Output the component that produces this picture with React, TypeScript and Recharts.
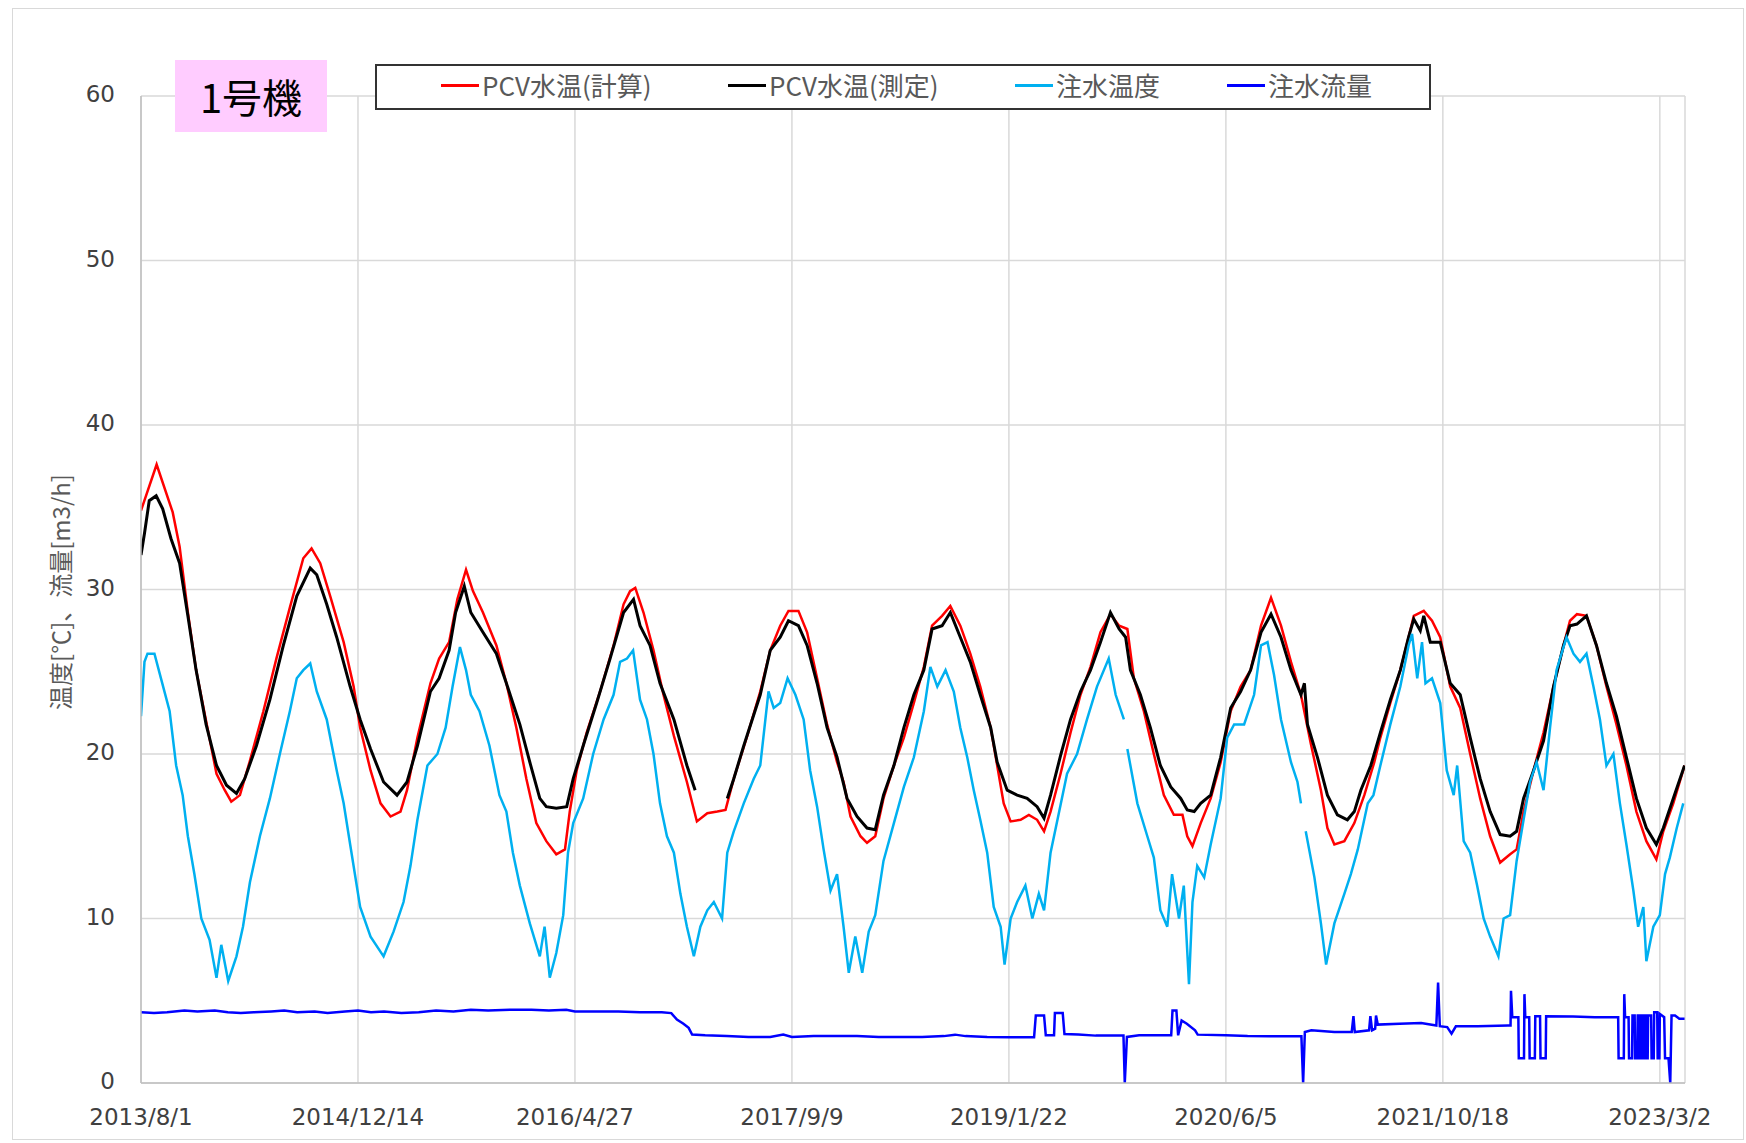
import { LineChart, Line, XAxis, YAxis, CartesianGrid, Legend } from "recharts";

// days counted from 2013/8/1
const xTicks = [0, 500, 1000, 1500, 2000, 2500, 3000, 3500];
const xTickLabels = [
  "2013/8/1",
  "2014/12/14",
  "2016/4/27",
  "2017/9/9",
  "2019/1/22",
  "2020/6/5",
  "2021/10/18",
  "2023/3/2",
];
const yTicks = [0, 10, 20, 30, 40, 50, 60];

// PCV水温(計算)
const pcvCalc: [number, number | null][] = [
  [0, 34.8], [36, 37.6], [73, 34.7], [89, 32.6], [108, 28.6], [127, 25.1], [150, 22.0],
  [174, 18.8], [193, 17.8], [208, 17.1], [228, 17.5], [250, 19.5], [282, 22.6], [312, 25.8],
  [343, 28.9], [374, 31.9], [393, 32.5], [413, 31.6], [436, 29.6], [467, 26.8], [490, 24.1],
  [505, 21.6], [529, 19.0], [552, 17.0], [575, 16.2], [598, 16.5], [613, 17.8], [637, 21.0],
  [667, 24.3], [687, 25.8], [710, 26.8], [729, 29.4], [749, 31.2], [765, 29.9], [788, 28.6],
  [819, 26.6], [842, 24.3], [865, 21.6], [888, 18.5], [911, 15.8], [934, 14.7], [957, 13.9],
  [977, 14.2], [988, 16.5], [1004, 19.0], [1027, 21.3], [1058, 23.8], [1089, 26.6], [1112, 29.1],
  [1127, 29.9], [1139, 30.1], [1158, 28.6], [1181, 26.3], [1204, 23.6], [1228, 21.1], [1258, 18.3],
  [1281, 15.9], [1305, 16.4], [1328, 16.5], [1347, 16.6], [1366, 18.5], [1397, 21.1], [1427, 23.8],
  [1450, 26.3], [1473, 27.8], [1492, 28.7], [1515, 28.7], [1535, 27.4], [1558, 24.6], [1581, 21.8],
  [1604, 19.5], [1619, 18.3], [1635, 16.2], [1658, 15.0], [1673, 14.6], [1692, 15.0], [1711, 17.3],
  [1735, 19.3], [1758, 21.0], [1781, 23.1], [1804, 25.3], [1823, 27.8], [1846, 28.4], [1865, 29.0],
  [1888, 27.8], [1911, 26.1], [1934, 24.1], [1958, 21.6], [1973, 19.3], [1988, 17.0], [2004, 15.9],
  [2027, 16.0], [2046, 16.3], [2065, 16.0], [2081, 15.3], [2096, 16.5], [2119, 18.8], [2142, 21.3],
  [2165, 23.6], [2188, 25.3], [2211, 27.4], [2234, 28.5], [2254, 27.8], [2273, 27.6], [2288, 24.6],
  [2311, 22.6], [2334, 20.0], [2357, 17.5], [2380, 16.3], [2400, 16.3], [2411, 15.0], [2423, 14.4],
  [2442, 15.8], [2465, 17.3], [2488, 19.5], [2511, 22.6], [2534, 24.1], [2557, 25.1], [2581, 27.8],
  [2604, 29.5], [2627, 27.8], [2650, 25.6], [2673, 23.6], [2696, 20.6], [2719, 17.8], [2734, 15.5],
  [2750, 14.5], [2773, 14.7], [2796, 15.8], [2819, 17.5], [2842, 19.5], [2856, 21.0], [2879, 23.1],
  [2902, 25.1], [2921, 27.1], [2933, 28.4], [2956, 28.7], [2975, 28.1], [2994, 27.1], [3017, 24.1],
  [3040, 22.8], [3063, 20.0], [3086, 17.3], [3109, 15.0], [3132, 13.4], [3155, 13.9], [3170, 14.2],
  [3186, 16.5], [3209, 19.0], [3232, 21.3], [3255, 24.1], [3278, 26.6], [3293, 28.1], [3309, 28.5],
  [3331, 28.4], [3354, 26.6], [3377, 24.1], [3400, 21.8], [3423, 19.3], [3446, 16.5], [3469, 14.7],
  [3492, 13.6], [3508, 15.3], [3531, 17.0], [3557, 19.3],
];

// PCV水温(測定)
const pcvMeas: [number, number | null][] = [
  [0, 32.1], [8, 33.4], [19, 35.4], [35, 35.7], [50, 34.9], [69, 33.1], [89, 31.6], [108, 28.4],
  [127, 25.1], [150, 21.8], [174, 19.3], [197, 18.1], [220, 17.6], [239, 18.5], [266, 20.5],
  [297, 23.3], [328, 26.6], [359, 29.6], [390, 31.3], [405, 30.9], [428, 29.1], [451, 27.1],
  [482, 24.1], [505, 22.1], [529, 20.3], [559, 18.3], [590, 17.5], [613, 18.3], [637, 20.5],
  [667, 23.8], [687, 24.6], [710, 26.3], [725, 28.6], [745, 30.2], [760, 28.6], [788, 27.4],
  [819, 26.1], [842, 24.3], [873, 21.8], [896, 19.5], [919, 17.3], [934, 16.8], [957, 16.7],
  [981, 16.8], [996, 18.5], [1019, 20.5], [1050, 23.1], [1081, 25.8], [1112, 28.6], [1135, 29.4],
  [1150, 27.8], [1173, 26.6], [1196, 24.3], [1228, 22.1], [1258, 19.3], [1277, 17.8], [1300, null],
  [1351, 17.3], [1366, 18.5], [1389, 20.5], [1427, 23.6], [1450, 26.3], [1473, 27.1], [1492, 28.1],
  [1515, 27.8], [1535, 26.6], [1558, 24.3], [1581, 21.6], [1604, 19.8], [1627, 17.3], [1650, 16.2],
  [1673, 15.5], [1692, 15.4], [1711, 17.5], [1735, 19.3], [1758, 21.6], [1781, 23.6], [1804, 25.1],
  [1823, 27.6], [1846, 27.8], [1865, 28.6], [1888, 27.1], [1911, 25.6], [1934, 23.6], [1958, 21.6],
  [1973, 19.5], [1996, 17.8], [2019, 17.5], [2042, 17.3], [2065, 16.8], [2081, 16.1], [2096, 17.5],
  [2119, 19.9], [2142, 22.1], [2165, 23.8], [2188, 25.1], [2211, 26.8], [2234, 28.6], [2254, 27.6],
  [2269, 27.1], [2280, 25.1], [2303, 23.6], [2326, 21.6], [2349, 19.3], [2373, 18.0], [2396, 17.3],
  [2411, 16.6], [2427, 16.5], [2442, 17.0], [2465, 17.5], [2488, 19.8], [2511, 22.8], [2534, 23.8],
  [2557, 25.1], [2581, 27.4], [2604, 28.5], [2627, 27.1], [2650, 25.1], [2673, 23.6], [2681, 24.3],
  [2688, 21.8], [2711, 19.8], [2734, 17.5], [2757, 16.3], [2780, 16.0], [2796, 16.5], [2811, 17.8],
  [2834, 19.3], [2856, 21.3], [2879, 23.3], [2902, 25.1], [2921, 27.1], [2933, 28.2], [2948, 27.5],
  [2956, 28.4], [2971, 26.8], [2994, 26.8], [3017, 24.3], [3040, 23.6], [3063, 21.0], [3086, 18.5],
  [3109, 16.5], [3132, 15.1], [3155, 15.0], [3170, 15.3], [3186, 17.3], [3209, 19.0], [3232, 20.8],
  [3255, 24.1], [3278, 26.6], [3293, 27.8], [3309, 27.9], [3331, 28.4], [3354, 26.6], [3377, 24.3],
  [3400, 22.3], [3423, 19.8], [3446, 17.3], [3469, 15.5], [3492, 14.5], [3508, 15.5], [3531, 17.3],
  [3557, 19.3],
];

// 注水温度
const injTemp: [number, number | null][] = [
  [0, 22.3], [8, 25.6], [15, 26.1], [31, 26.1], [46, 24.6], [66, 22.6], [81, 19.3], [96, 17.5],
  [108, 15.0], [123, 12.7], [139, 10.0], [158, 8.7], [174, 6.4], [185, 8.4], [201, 6.2], [220, 7.7],
  [235, 9.5], [251, 12.2], [274, 15.0], [297, 17.3], [320, 20.0], [343, 22.6], [359, 24.6],
  [374, 25.1], [390, 25.5], [405, 23.8], [428, 22.1], [451, 19.0], [467, 17.0], [482, 14.5],
  [505, 10.7], [529, 8.9], [559, 7.7], [582, 9.2], [605, 11.0], [621, 13.2], [637, 16.0], [660, 19.3],
  [683, 20.0], [702, 21.6], [718, 24.1], [735, 26.5], [749, 25.1], [760, 23.6], [780, 22.6],
  [803, 20.5], [826, 17.5], [842, 16.5], [857, 14.0], [873, 12.0], [896, 9.7], [919, 7.7], [930, 9.5],
  [942, 6.4], [957, 7.9], [973, 10.2], [984, 14.0], [996, 15.8], [1019, 17.3], [1042, 20.0],
  [1066, 22.1], [1089, 23.6], [1104, 25.6], [1120, 25.8], [1134, 26.3], [1150, 23.3], [1166, 22.1],
  [1181, 20.0], [1196, 17.0], [1212, 15.0], [1228, 14.0], [1243, 11.5], [1258, 9.5], [1274, 7.7],
  [1289, 9.5], [1305, 10.5], [1320, 11.0], [1339, 10.0], [1351, 14.0], [1366, 15.3], [1389, 17.0],
  [1412, 18.5], [1427, 19.3], [1446, 23.8], [1458, 22.8], [1473, 23.1], [1490, 24.6], [1508, 23.6],
  [1527, 22.1], [1542, 19.0], [1558, 16.8], [1573, 14.2], [1589, 11.7], [1604, 12.7], [1619, 9.5],
  [1631, 6.7], [1646, 8.9], [1662, 6.7], [1677, 9.2], [1692, 10.2], [1711, 13.5], [1735, 15.8],
  [1758, 18.0], [1781, 19.8], [1804, 22.6], [1819, 25.3], [1835, 24.1], [1854, 25.1], [1873, 23.8],
  [1888, 21.6], [1904, 19.8], [1919, 17.8], [1934, 16.0], [1950, 14.0], [1965, 10.7], [1981, 9.5],
  [1990, 7.2], [2004, 10.0], [2019, 11.0], [2038, 12.0], [2054, 10.0], [2069, 11.5], [2081, 10.5],
  [2096, 14.0], [2119, 16.9], [2134, 18.8], [2157, 20.0], [2180, 22.1], [2203, 24.1], [2230, 25.8],
  [2246, 23.6], [2265, 22.1], [2269, null], [2273, 20.3], [2296, 17.0], [2319, 15.0], [2334, 13.7],
  [2349, 10.5], [2365, 9.5], [2376, 12.7], [2392, 10.0], [2403, 12.0], [2415, 6.0], [2423, 11.0],
  [2434, 13.2], [2450, 12.5], [2465, 14.5], [2488, 17.3], [2503, 21.0], [2519, 21.8], [2542, 21.8],
  [2565, 23.6], [2581, 26.6], [2596, 26.8], [2611, 24.8], [2627, 22.1], [2650, 19.5], [2665, 18.3],
  [2673, 17.0], [2678, null], [2684, 15.3], [2704, 12.5], [2719, 9.7], [2731, 7.2], [2750, 9.7],
  [2773, 11.5], [2788, 12.7], [2804, 14.2], [2827, 17.0], [2840, 17.5], [2856, 19.3], [2879, 21.8],
  [2902, 24.1], [2921, 26.6], [2929, 27.3], [2941, 24.6], [2952, 26.8], [2960, 24.3], [2975, 24.6],
  [2994, 23.1], [3009, 19.0], [3025, 17.5], [3033, 19.3], [3048, 14.7], [3063, 14.0], [3079, 12.0],
  [3094, 10.0], [3109, 8.9], [3128, 7.7], [3140, 10.0], [3155, 10.2], [3170, 13.5], [3186, 16.0],
  [3201, 18.3], [3216, 19.5], [3232, 17.8], [3247, 21.6], [3262, 25.1], [3285, 27.1], [3301, 26.1],
  [3316, 25.6], [3331, 26.1], [3347, 24.1], [3362, 22.1], [3377, 19.3], [3393, 20.0], [3408, 17.0],
  [3423, 14.5], [3439, 11.7], [3450, 9.5], [3462, 10.7], [3469, 7.4], [3485, 9.5], [3500, 10.2],
  [3512, 12.7], [3523, 13.7], [3539, 15.5], [3554, 17.0],
];

// 注水流量
const injFlow: [number, number | null][] = [
  [0, 4.3], [30, 4.25], [60, 4.3], [100, 4.4], [130, 4.35], [170, 4.4], [200, 4.3], [230, 4.25],
  [260, 4.3], [300, 4.35], [330, 4.4], [360, 4.3], [400, 4.35], [430, 4.25], [470, 4.35], [500, 4.4],
  [530, 4.3], [560, 4.35], [600, 4.25], [640, 4.3], [680, 4.4], [720, 4.35], [760, 4.45], [800, 4.4],
  [850, 4.45], [900, 4.45], [940, 4.4], [980, 4.45], [1000, 4.35], [1050, 4.35], [1100, 4.35],
  [1150, 4.3], [1200, 4.3], [1222, 4.25], [1235, 3.85], [1250, 3.6], [1262, 3.35], [1270, 2.95],
  [1300, 2.9], [1350, 2.85], [1400, 2.8], [1450, 2.8], [1480, 2.95], [1500, 2.8], [1550, 2.85],
  [1600, 2.85], [1650, 2.85], [1700, 2.8], [1750, 2.8], [1800, 2.8], [1850, 2.85], [1876, 2.94],
  [1900, 2.85], [1950, 2.8], [2000, 2.78], [2058, 2.78], [2062, 4.1], [2081, 4.1], [2085, 2.9],
  [2104, 2.9], [2106, 4.26], [2124, 4.26], [2128, 2.98], [2160, 2.95], [2200, 2.88], [2264, 2.88],
  [2267, 0], [2272, 2.8], [2300, 2.9], [2350, 2.9], [2374, 2.9], [2377, 4.4], [2386, 4.4], [2390, 2.9],
  [2398, 3.8], [2410, 3.6], [2429, 3.2], [2435, 2.94], [2500, 2.9], [2550, 2.85], [2600, 2.84],
  [2674, 2.84], [2678, 0], [2682, 3.1], [2697, 3.2], [2750, 3.1], [2790, 3.1], [2794, 4.06],
  [2797, 3.1], [2830, 3.2], [2833, 4.06], [2837, 3.2], [2844, 3.3], [2846, 4.1], [2850, 3.55],
  [2900, 3.6], [2950, 3.65], [2985, 3.5], [2989, 6.1], [2993, 3.45], [3010, 3.4], [3020, 3.0],
  [3030, 3.45], [3080, 3.45], [3150, 3.5], [3156, 3.5], [3157, 5.6], [3160, 4.0], [3174, 4.0],
  [3175, 1.5], [3187, 1.5], [3188, 5.4], [3190, 4.0], [3199, 4.0], [3200, 1.5], [3212, 1.5],
  [3213, 4.06], [3224, 4.06], [3225, 1.5], [3237, 1.5], [3238, 4.06], [3300, 4.05], [3350, 4.0],
  [3404, 4.0], [3405, 1.5], [3417, 1.5], [3418, 5.4], [3420, 4.0], [3428, 4.0], [3429, 1.5],
  [3436, 1.5], [3437, 4.1], [3442, 4.1], [3443, 1.5], [3448, 1.5], [3449, 4.1], [3452, 4.1],
  [3453, 1.5], [3456, 1.5], [3457, 4.1], [3460, 4.1], [3461, 1.5], [3464, 1.5], [3465, 4.1],
  [3468, 4.1], [3469, 1.5], [3472, 1.5], [3473, 4.1], [3480, 4.1], [3481, 1.5], [3486, 1.5],
  [3487, 4.3], [3494, 4.3], [3495, 1.5], [3499, 1.5], [3500, 4.2], [3510, 4.0], [3512, 1.5],
  [3520, 1.5], [3524, 0], [3527, 4.1], [3535, 4.1], [3545, 3.9], [3557, 3.9],
];

const toPoints = (arr: [number, number | null][]) => arr.map(([d, v]) => ({ d, v }));

const series = [
  { key: "calc", name: "PCV水温(計算)", color: "#FF0000", width: 2.5, data: toPoints(pcvCalc), lx: 64 },
  { key: "meas", name: "PCV水温(測定)", color: "#000000", width: 3, data: toPoints(pcvMeas), lx: 351 },
  { key: "temp", name: "注水温度", color: "#00B0F0", width: 2.5, data: toPoints(injTemp), lx: 638 },
  { key: "flow", name: "注水流量", color: "#0000FF", width: 2.5, data: toPoints(injFlow), lx: 850 },
];

const font = "'DejaVu Sans', 'Noto Sans CJK JP', sans-serif";
const cjkFont = "'Noto Sans CJK JP', sans-serif";

const XTick = ({ x, y, payload }: any) => (
  <text x={x} y={y + 2} dy="0.71em" textAnchor="middle" fill="#404040" fontSize={23} fontFamily={font}>
    {xTickLabels[xTicks.indexOf(payload.value)]}
  </text>
);

const YTick = ({ x, y, payload }: any) => (
  <text x={x} y={y - 2} dy="0.355em" textAnchor="end" fill="#404040" fontSize={23} fontFamily={font}>
    {payload.value}
  </text>
);

const LegendBox = () => (
  <div
    style={{
      position: "relative",
      width: 1056,
      height: 46,
      boxSizing: "border-box",
      border: "2px solid #333",
      background: "#fff",
      fontFamily: cjkFont,
      fontSize: 26,
      color: "#595959",
    }}
  >
    {series.map((s) => (
      <div
        key={s.key}
        style={{
          position: "absolute",
          left: s.lx,
          top: -2,
          height: 42,
          display: "flex",
          alignItems: "center",
          whiteSpace: "nowrap",
        }}
      >
        <span style={{ display: "inline-block", width: 38, height: 3, background: s.color, marginRight: 3 }} />
        <span style={{ lineHeight: 1 }}>{s.name}</span>
      </div>
    ))}
  </div>
);

export default function App() {
  return (
    <div style={{ position: "absolute", left: 0, top: 0, width: 1746, height: 1143, background: "#fff" }}>
      <div
        style={{
          position: "absolute",
          left: 12,
          top: 8,
          width: 1732,
          height: 1132,
          border: "1.5px solid #d9d9d9",
          boxSizing: "border-box",
        }}
      />
      <LineChart width={1746} height={1143} margin={{ top: 96, right: 61, bottom: 0, left: 41 }}>
        <CartesianGrid stroke="#d9d9d9" strokeWidth={1.5} />
        <XAxis
          type="number"
          dataKey="d"
          domain={[0, 3558]}
          ticks={xTicks}
          allowDataOverflow
          height={60}
          axisLine={{ stroke: "#bfbfbf", strokeWidth: 1.5 }}
          tickLine={false}
          tickSize={0}
          tickMargin={24}
          tick={<XTick />}
        />
        <YAxis
          type="number"
          domain={[0, 60]}
          ticks={yTicks}
          width={100}
          axisLine={{ stroke: "#bfbfbf", strokeWidth: 1.5 }}
          tickLine={false}
          tickSize={0}
          tickMargin={26}
          tick={<YTick />}
        />
        {series.map((s) => (
          <Line
            key={s.key}
            data={s.data}
            dataKey="v"
            name={s.name}
            type="linear"
            stroke={s.color}
            strokeWidth={s.width}
            dot={false}
            activeDot={false}
            isAnimationActive={false}
          />
        ))}
        <Legend
          layout="horizontal"
          verticalAlign="middle"
          align="center"
          content={() => <LegendBox />}
          wrapperStyle={{ position: "absolute", left: 375, top: 64, width: 1056, height: 46 }}
        />
      </LineChart>
      <div
        style={{
          position: "absolute",
          left: 59,
          top: 592,
          transform: "translate(-50%, -50%) rotate(-90deg)",
          whiteSpace: "nowrap",
          fontFamily: cjkFont,
          fontSize: 24,
          color: "#595959",
        }}
      >
        温度[℃]、流量[m3/h]
      </div>
      <div
        style={{
          position: "absolute",
          left: 175,
          top: 60,
          width: 152,
          height: 72,
          background: "#FFCCFF",
          display: "flex",
          alignItems: "center",
          justifyContent: "center",
          fontFamily: cjkFont,
          fontSize: 40,
          color: "#000",
        }}
      >
        1号機
      </div>
    </div>
  );
}
